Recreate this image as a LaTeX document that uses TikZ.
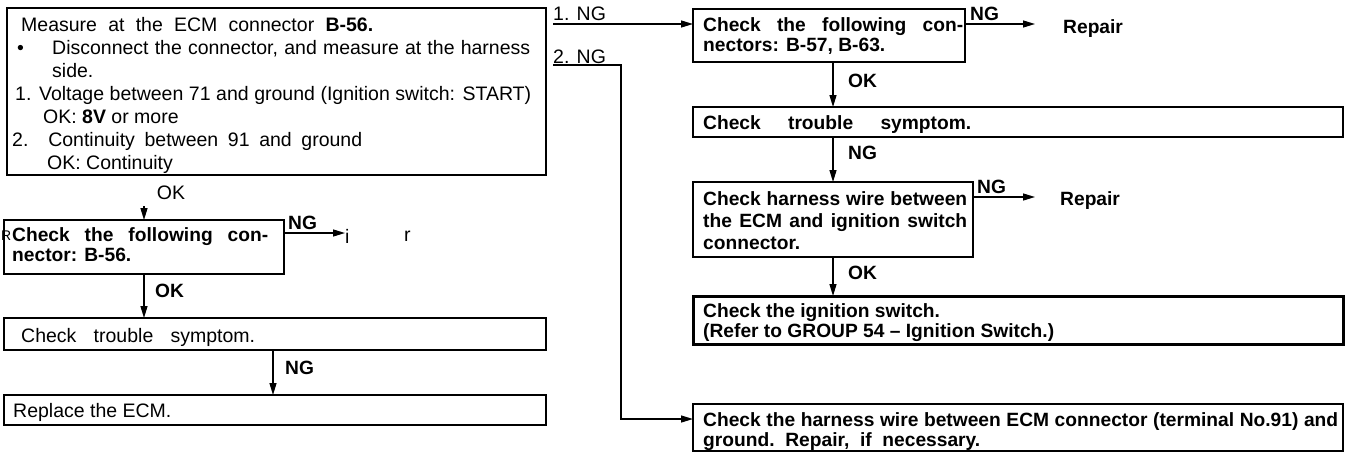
\documentclass[tikz,border=0pt]{standalone}
\usepackage{fontspec}
\setmainfont{Liberation Sans}
\usetikzlibrary{arrows.meta}
\newcommand\fsz{\fontsize{19.5}{23}\selectfont}
\newcommand\fsb{\fontsize{19.2}{22}\selectfont\bfseries}
\begin{document}
\begin{tikzpicture}[x=1pt,y=-1pt,
  box/.style={draw, line width=1.7pt, anchor=north west, inner sep=0pt, outer sep=0pt},
  txt/.style={anchor=base west, inner sep=0pt, font=\fsz},
  btxt/.style={anchor=base west, inner sep=0pt, font=\fsb},
  lbl/.style={anchor=base west, inner sep=0pt, font=\fsb},
  conn/.style={line width=1.3pt},
  arr/.style={conn, -{Triangle[length=12pt,width=7pt]}},
]
\useasboundingbox[fill=white] (0,0) rectangle (1351,456);

% ---------- left column ----------
\node[box, minimum width=539pt, minimum height=167pt] (A) at (7,8) {};
\node[txt] (a1) at (21,31) {\makebox[352pt][s]{Measure at the ECM connector \textbf{B-56.}}};
\node[txt] (a2b) at (17,54) {\textbullet};
\node[txt] (a2) at (52,54) {\makebox[478pt][s]{Disconnect the connector, and measure at the harness}};
\node[txt] (a3) at (52,77) {side.};
\node[txt] (a4) at (15,100) {\makebox[516pt][s]{1. Voltage between 71 and ground (Ignition switch: START)}};
\node[txt] (a5) at (43,123) {OK: \textbf{8V} or more};
\node[txt] (a6) at (12,146) {\makebox[350pt][s]{2. Continuity between 91 and ground}};
\node[txt] (a7) at (47,169) {OK: Continuity};

\node[font=\fsz, inner sep=0pt] (okA) at (171,193) {OK};
\coordinate (tA) at (144,206);
\node[box, minimum width=280pt, minimum height=54pt] (B) at (4,220) {};
\node[btxt] (b1) at (12,241) {\makebox[256pt][s]{Check the following con-}};
\node[btxt] (b2) at (12,261) {nector: B-56.};
\draw[arr] (tA) -- (B.north -| tA);
\coordinate (bNGend) at (345,233);
\draw[arr] (B.east |- bNGend) -- (bNGend);
\node[lbl] (bNGl) at (288,229) {NG};
% stray letters of a garbled "Repair"
\node[anchor=base west, inner sep=0pt, font=\fontsize{14}{16}\selectfont] (gR) at (1,240) {R};
\node[txt] (gi) at (345,243) {i};
\node[txt] (gr) at (404,241) {r};

\node[box, minimum width=542pt, minimum height=32pt] (CL) at (4,318) {};
\coordinate (xL) at (144,0);
\draw[arr] (B.south -| xL) -- (CL.north -| xL);
\node[lbl] (okB) at (155,297) {OK};
\node[txt] (cl1) at (21,342) {\makebox[234pt][s]{Check trouble symptom.}};

\node[box, minimum width=542pt, minimum height=30pt] (RP) at (4,395) {};
\coordinate (xL2) at (273,0);
\draw[arr] (CL.south -| xL2) -- (RP.north -| xL2);
\node[lbl] (ngL) at (285,374) {NG};
\node[txt] (r1) at (13,417) {Replace the ECM.};

% ---------- right column ----------
\node[txt] (ng1) at (553,20) {1. NG};
\coordinate (s1) at (553,24);
\node[box, minimum width=272pt, minimum height=53pt] (C) at (693,9) {};
\draw[arr] (s1) -- (C.west |- s1);

\node[txt] (ng2) at (553,63) {2. NG};
\coordinate (s2) at (553,65);
\coordinate (corner) at (621,65);
\node[box, minimum width=650pt, minimum height=47pt] (G) at (693,404) {};
\coordinate (gy) at (0,419);
\draw[arr] (s2) -- (corner) |- (G.west |- gy);

\node[btxt] (c1) at (703,31) {\makebox[260pt][s]{Check the following con-}};
\node[btxt] (c2) at (703,51) {nectors: B-57, B-63.};
\node[lbl] (cNG) at (970,20) {NG};
\coordinate (rep1) at (1035,24);
\draw[arr] (C.east |- rep1) -- (rep1);
\node[btxt] (rep1t) at (1063,33) {Repair};

\node[box, minimum width=650pt, minimum height=30pt] (D) at (693,107) {};
\coordinate (xR) at (833,0);
\draw[arr] (C.south -| xR) -- (D.north -| xR);
\node[lbl] (okC) at (848,87) {OK};
\node[btxt] (d1) at (703,129) {\makebox[268pt][s]{Check trouble symptom.}};

\node[box, minimum width=280pt, minimum height=75pt] (E) at (693,182) {};
\draw[arr] (D.south -| xR) -- (E.north -| xR);
\node[lbl] (ngD) at (848,159) {NG};
\node[btxt] (e1) at (703,205) {\makebox[264pt][s]{Check harness wire between}};
\node[btxt] (e2) at (703,227) {\makebox[264pt][s]{the ECM and ignition switch}};
\node[btxt] (e3) at (703,249) {connector.};
\node[lbl] (eNG) at (977,193) {NG};
\coordinate (rep2) at (1035,197);
\draw[arr] (E.east |- rep2) -- (rep2);
\node[btxt] (rep2t) at (1060,205) {Repair};

\node[box, line width=3pt, minimum width=650pt, minimum height=48pt] (F) at (693,296) {};
\draw[arr] (E.south -| xR) -- (F.north -| xR);
\node[lbl] (okE) at (848,279) {OK};
\node[btxt] (f1) at (703,317) {Check the ignition switch.};
\node[btxt] (f2) at (703,337) {(Refer to GROUP 54 -- Ignition Switch.)};

\node[btxt] (g1) at (703,426) {\makebox[635pt][s]{Check the harness wire between ECM connector (terminal No.91) and}};
\node[btxt] (g2) at (703,446) {ground.\ \ Repair,\ \ if\ \ necessary.};
\end{tikzpicture}
\end{document}
